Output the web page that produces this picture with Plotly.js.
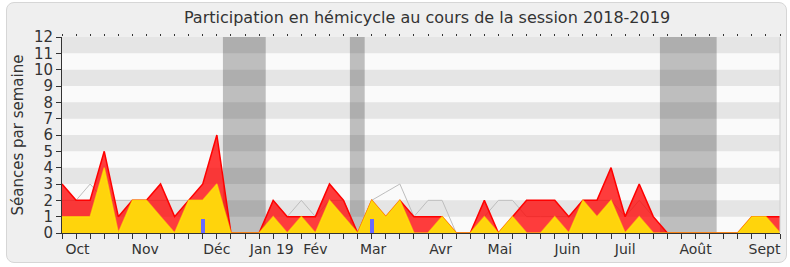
<!DOCTYPE html>
<html>
<head>
<meta charset="utf-8">
<script src="https://cdn.plot.ly/plotly-3.0.1.min.js"></script>
<style>
  html, body { margin: 0; padding: 0; background: #ffffff; }
  #frame { position: absolute; left: 6px; top: 2px; width: 779px; height: 259px;
           border: 1px solid #d6d6d6; border-radius: 8px; background: #efefef; }
  #chart { position: absolute; left: 0; top: 0; width: 790px; height: 267px; }
</style>
</head>
<body>
<div id="frame"></div>
<div id="chart"></div>
<script>
// Week index 0..51 (session 2018-2019, one point per week)
const weeks = Array.from({length: 52}, (_, i) => i);

// Total séances (red area)
const presences = [3,2,2,5,1,2,2,3,1,2,3,6, 0,0,0, 2,1,1,1,3,2,0, 2,1,2,1,1,1,0,0, 2,0,1,2,2,2,1,2,2, 4,1,3,1,0, 0,0,0,0,0, 1,1,1];
// Interventions (yellow area)
const interventions = [1,1,1,4,0,2,2,1,0,2,2,3, 0,0,0, 1,0,1,0,2,1,0, 2,1,2,0,0,1,0,0, 1,0,1,0,0,1,0,2,1, 2,0,1,0,0, 0,0,0,0,0, 1,1,0];
// Médiane des députés (gray line)
const mediane = [2,2,3,2,2,2,2,2,2,2,2,2, 0,0,0, 2,1,2,1,2,2,0, 2,2.5,3,1,2,2,0,0, 1,2,2,1,1,1,1,2,2, 2,1,2,1,0, 0,0,0,0,0, 1,1,1];
// Questions orales (blue bars)
const questionWeeks = [10, 22];
const questionValues = [0.85, 0.85];

// Vacances parlementaires (week index ranges)
const vacances = [[11.43, 14.47], [20.45, 21.5], [42.47, 46.5]];

// Month labels
const monthLabels = ['Oct','Nov','Déc','Jan 19','Fév','Mar','Avr','Mai','Juin','Juil','Août','Sept'];
const monthPos = [1.1, 5.9, 11.0, 14.9, 18.0, 22.1, 26.9, 31.1, 35.9, 40.0, 45.0, 49.9];

const yTicks = [0,1,2,3,4,5,6,7,8,9,10,11,12];

const FONT = 'DejaVu Sans, Verdana, sans-serif';
const TXT = '#333333';

const shapes = [];
for (let v = 1; v < 12; v += 2) {
  shapes.push({type: 'rect', layer: 'below', xref: 'paper', yref: 'y', x0: 0, x1: 1, y0: v, y1: v + 1,
               fillcolor: '#e5e5e5', line: {width: 0}});
}
vacances.forEach(([a, b]) => {
  shapes.push({type: 'rect', layer: 'below', xref: 'x', yref: 'paper', x0: a, x1: b, y0: 0, y1: 1,
               fillcolor: 'rgba(0,0,0,0.24)', line: {width: 0}});
});
shapes.push({type: 'line', xref: 'paper', yref: 'paper', x0: 1, x1: 1, y0: 0, y1: 1,
             line: {color: '#cfcfcf', width: 1}});

const traces = [
  {type: 'scatter', mode: 'lines', x: weeks, y: mediane, line: {color: '#bdbdbd', width: 1},
   hoverinfo: 'skip', showlegend: false},
  {type: 'scatter', mode: 'lines', x: weeks, y: presences, fill: 'tozeroy',
   fillcolor: 'rgba(255,0,0,0.76)', line: {color: '#ff0000', width: 1.5},
   hoverinfo: 'skip', showlegend: false},
  {type: 'scatter', mode: 'lines', x: weeks, y: interventions, fill: 'tozeroy',
   fillcolor: '#ffd40c', line: {color: 'rgba(255,238,0,0.6)', width: 1.5},
   hoverinfo: 'skip', showlegend: false},
  {type: 'bar', x: questionWeeks, y: questionValues, width: 0.28, xaxis: 'x2', yaxis: 'y',
   marker: {color: '#6a6aff', line: {width: 0}}, hoverinfo: 'skip', showlegend: false},
  {type: 'scatter', mode: 'lines', x: [null], y: [null], xaxis: 'x3', yaxis: 'y',
   hoverinfo: 'skip', showlegend: false}
];

const layout = {
  width: 790, height: 267, autosize: false,
  margin: {l: 62, r: 10, t: 37, b: 34, pad: 0},
  paper_bgcolor: 'rgba(0,0,0,0)',
  plot_bgcolor: '#fafafa',
  font: {family: FONT, color: TXT},
  title: {text: 'Participation en hémicycle au cours de la session 2018-2019',
          font: {family: FONT, size: 16, color: TXT},
          xref: 'container', x: 0.5405, xanchor: 'center',
          yref: 'container', y: 0.936, yanchor: 'middle'},
  showlegend: false,
  bargap: 0,
  xaxis: {range: [0, 51], tickmode: 'array', tickvals: monthPos, ticktext: monthLabels,
          ticks: 'outside', ticklen: 3, tickcolor: 'rgba(0,0,0,0)',
          showline: true, linecolor: '#333333', linewidth: 1, showgrid: false, zeroline: false,
          tickfont: {family: FONT, size: 14, color: TXT}, fixedrange: true},
  xaxis2: {range: [0, 51], overlaying: 'x', side: 'bottom', anchor: 'y',
           tickmode: 'array', tickvals: weeks, ticks: 'outside', ticklen: 5, tickcolor: '#333333',
           showticklabels: false, showline: false, showgrid: false, zeroline: false, fixedrange: true},
  xaxis3: {range: [0, 51], overlaying: 'x', side: 'top', anchor: 'y',
           tickmode: 'array', tickvals: weeks, ticks: 'outside', ticklen: 2, tickcolor: '#333333',
           showticklabels: false, showline: false, showgrid: false, zeroline: false, fixedrange: true},
  yaxis: {range: [0, 12], tickmode: 'array', tickvals: yTicks, ticks: 'outside', ticklen: 5,
          tickcolor: '#333333', showline: true, linecolor: '#333333', linewidth: 1,
          showgrid: false, zeroline: false, fixedrange: true,
          tickfont: {family: FONT, size: 15, color: TXT},
          title: {text: 'Séances par semaine', font: {family: FONT, size: 15, color: TXT}, standoff: 6}},
  shapes: shapes
};

Plotly.newPlot('chart', traces, layout, {displayModeBar: false, staticPlot: true});
</script>
</body>
</html>
